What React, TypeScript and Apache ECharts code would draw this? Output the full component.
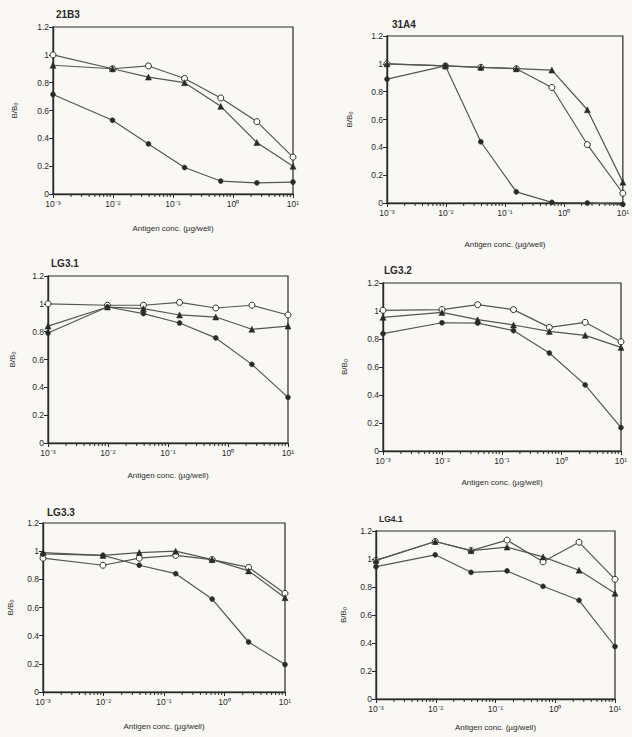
import React, { useEffect, useRef } from "react";
import * as echarts from "echarts";

// Antigen concentrations (µg/well), 4-fold dilutions; the first point sits at the axis start
const concentrations = [0.001, 0.0098, 0.039, 0.156, 0.625, 2.5, 10];

const panelNames = ["21B3", "31A4", "LG3.1", "LG3.2", "LG3.3", "LG4.1"];

// B/B0 values per panel: open circles, filled triangles, filled circles
const p21B3Open = [1.0, 0.9, 0.92, 0.83, 0.69, 0.52, 0.265];
const p21B3Tri = [0.925, 0.9, 0.84, 0.8, 0.63, 0.37, 0.2];
const p21B3Dot = [0.715, 0.53, 0.36, 0.19, 0.093, 0.08, 0.086];

const p31A4Open = [1.0, 0.985, 0.975, 0.965, 0.83, 0.42, 0.07];
const p31A4Tri = [1.0, 0.985, 0.975, 0.965, 0.955, 0.67, 0.15];
const p31A4Dot = [0.89, 0.985, 0.44, 0.08, 0.005, 0.0, -0.01];

const pLG31Open = [1.0, 0.99, 0.99, 1.01, 0.97, 0.99, 0.92];
const pLG31Tri = [0.84, 0.977, 0.965, 0.92, 0.905, 0.817, 0.84];
const pLG31Dot = [0.79, 0.977, 0.93, 0.862, 0.755, 0.565, 0.328];

const pLG32Open = [1.005, 1.01, 1.045, 1.01, 0.883, 0.919, 0.78];
const pLG32Tri = [0.955, 0.99, 0.938, 0.9, 0.854, 0.826, 0.74];
const pLG32Dot = [0.838, 0.916, 0.914, 0.86, 0.7, 0.472, 0.167];

const pLG33Open = [0.95, 0.9, 0.95, 0.97, 0.94, 0.885, 0.7];
const pLG33Tri = [0.99, 0.97, 0.99, 1.0, 0.94, 0.86, 0.67];
const pLG33Dot = [0.98, 0.97, 0.9, 0.84, 0.66, 0.355, 0.195];

const pLG41Open = [0.99, 1.125, 1.06, 1.135, 0.98, 1.12, 0.855];
const pLG41Tri = [0.99, 1.125, 1.06, 1.085, 1.015, 0.92, 0.755];
const pLG41Dot = [0.945, 1.03, 0.905, 0.915, 0.805, 0.705, 0.375];

const openSeries = [p21B3Open, p31A4Open, pLG31Open, pLG32Open, pLG33Open, pLG41Open];
const triSeries = [p21B3Tri, p31A4Tri, pLG31Tri, pLG32Tri, pLG33Tri, pLG41Tri];
const dotSeries = [p21B3Dot, p31A4Dot, pLG31Dot, pLG32Dot, pLG33Dot, pLG41Dot];

// Log-axis minor tick positions
const minorTickValues = [
  0.002, 0.003, 0.004, 0.005, 0.006, 0.007, 0.008, 0.009,
  0.02, 0.03, 0.04, 0.05, 0.06, 0.07, 0.08, 0.09,
  0.2, 0.3, 0.4, 0.5, 0.6, 0.7, 0.8, 0.9,
  2, 3, 4, 5, 6, 7, 8, 9,
];

const xAxisName = "Antigen conc. (µg/well)";
const yAxisName = "B/B₀";

// Layout (page pixels)
const layout = [
  { left: 53, top: 27, width: 240, height: 167, tx: 56, ty: 9, xGap: 30, yGap: 35, tSize: 10 },
  { left: 387, top: 36, width: 237, height: 167, tx: 392, ty: 19, xGap: 37, yGap: 34, tSize: 10 },
  { left: 48, top: 276, width: 240, height: 167, tx: 51, ty: 258, xGap: 28, yGap: 32, tSize: 10 },
  { left: 383, top: 283, width: 238, height: 168, tx: 384, ty: 265, xGap: 27, yGap: 35, tSize: 10 },
  { left: 43, top: 523, width: 242, height: 169, tx: 47, ty: 507, xGap: 30, yGap: 29, tSize: 10 },
  { left: 376, top: 531, width: 239, height: 168, tx: 379, ty: 514, xGap: 24, yGap: 29, tSize: 8.5 },
];

const supMap: Record<string, string> = {
  "-": "⁻", "0": "⁰", "1": "¹", "2": "²", "3": "³", "4": "⁴",
};
const fmtPow = (v: number) => {
  const e = String(Math.round(Math.log10(v)));
  return "10" + e.split("").map((c) => supMap[c] || c).join("");
};

const FONT = "Liberation Sans, Arial, sans-serif";
const INK = "#2a2a2a";
const LINE = "#555555";
const PAPER = "#f9f8f4";

export default function App() {
  const ref = useRef<HTMLDivElement>(null);

  useEffect(() => {
    if (!ref.current) return;
    document.body.style.margin = "0";
    document.body.style.overflow = "hidden";
    document.body.style.background = PAPER;
    const chart = echarts.init(ref.current, undefined, { renderer: "svg" });

    const grids: any[] = [];
    const xAxes: any[] = [];
    const yAxes: any[] = [];
    const titles: any[] = [];
    const series: any[] = [];

    layout.forEach((L, i) => {
      grids.push({
        left: L.left,
        top: L.top,
        width: L.width,
        height: L.height,
        show: true,
        borderColor: INK,
        borderWidth: 1.2,
        backgroundColor: "transparent",
        containLabel: false,
      });
      xAxes.push({
        type: "log",
        logBase: 10,
        gridIndex: i,
        min: 0.001,
        max: 10,
        name: xAxisName,
        nameLocation: "middle",
        nameGap: L.xGap,
        nameTextStyle: { fontFamily: FONT, fontSize: 8, color: INK },
        axisLine: { show: true, lineStyle: { color: INK, width: 1.4 } },
        axisTick: { show: true, inside: false, length: 4, lineStyle: { color: INK, width: 1 } },
        axisLabel: {
          fontFamily: FONT,
          fontSize: 8.5,
          color: INK,
          margin: 5,
          formatter: (v: number) => fmtPow(v),
        },
        splitLine: { show: false },
        minorTick: { show: false },
      });
      yAxes.push({
        type: "value",
        gridIndex: i,
        min: 0,
        max: 1.2,
        interval: 0.2,
        name: yAxisName,
        nameLocation: "middle",
        nameRotate: 90,
        nameGap: L.yGap,
        nameTextStyle: { fontFamily: FONT, fontSize: 8, color: INK },
        axisLine: { show: true, lineStyle: { color: INK, width: 1.4 } },
        axisTick: { show: true, inside: false, length: 4, lineStyle: { color: INK, width: 1 } },
        axisLabel: { fontFamily: FONT, fontSize: 8.5, color: INK, margin: 4 },
        splitLine: { show: false },
      });
      titles.push({
        text: panelNames[i],
        left: L.tx,
        top: L.ty,
        padding: 0,
        textStyle: { fontFamily: FONT, fontSize: L.tSize, fontWeight: "bold", color: INK },
      });

      const mk = (vals: number[]) => concentrations.map((c, k) => [c, vals[k]]);
      const base = {
        type: "line",
        xAxisIndex: i,
        yAxisIndex: i,
        clip: false,
        lineStyle: { color: LINE, width: 1.2 },
        emphasis: { disabled: true },
      };
      series.push({
        ...base,
        name: "open" + i,
        data: mk(openSeries[i]),
        symbol: "circle",
        symbolSize: 6,
        itemStyle: { color: "#ffffff", borderColor: INK, borderWidth: 1 },
        z: 2,
      });
      series.push({
        ...base,
        name: "tri" + i,
        data: mk(triSeries[i]),
        symbol: "triangle",
        symbolSize: 6,
        itemStyle: { color: INK, borderColor: INK, borderWidth: 0.5 },
        z: 3,
      });
      series.push({
        ...base,
        name: "dot" + i,
        data: mk(dotSeries[i]),
        symbol: "circle",
        symbolSize: 5,
        itemStyle: { color: INK, borderColor: INK, borderWidth: 0.5 },
        z: 4,
      });
      series.push({
        type: "custom",
        name: "minor" + i,
        xAxisIndex: i,
        yAxisIndex: i,
        clip: false,
        silent: true,
        data: minorTickValues.map((v) => [v, 0]),
        encode: { x: 0, y: 1 },
        renderItem: (params: any, api: any) => {
          const p = api.coord([api.value(0), 0]);
          return {
            type: "line",
            shape: { x1: p[0], y1: p[1], x2: p[0], y2: p[1] + 3 },
            style: { stroke: INK, lineWidth: 1 },
          };
        },
        z: 1,
      });
    });

    chart.setOption({
      animation: false,
      backgroundColor: PAPER,
      textStyle: { fontFamily: FONT },
      title: titles,
      grid: grids,
      xAxis: xAxes,
      yAxis: yAxes,
      series,
      tooltip: { show: false },
    });

    return () => chart.dispose();
  }, []);

  return <div ref={ref} style={{ width: 632, height: 737 }} />;
}
